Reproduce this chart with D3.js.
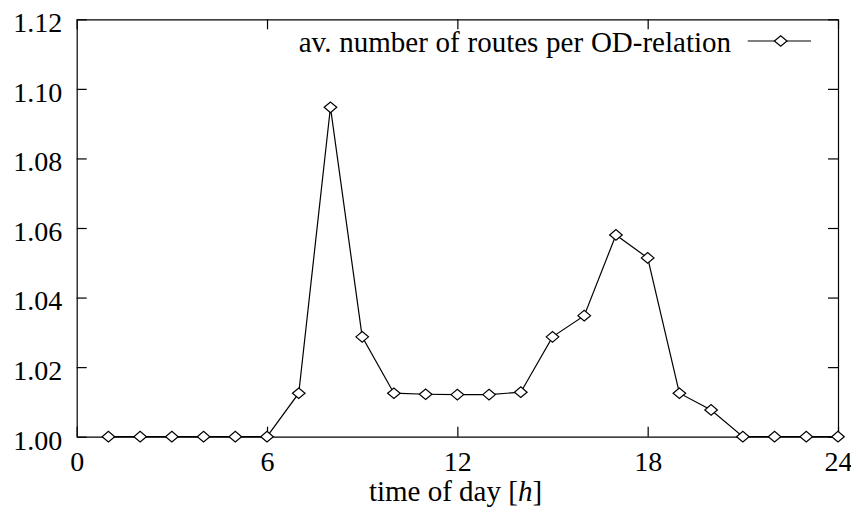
<!DOCTYPE html>
<html>
<head>
<meta charset="utf-8">
<script src="https://cdn.jsdelivr.net/npm/d3@7"></script>
<style>
  body { margin: 0; background: #fff; }
</style>
</head>
<body>
<div id="chart-Div"></div>
<script>

let width = 851, height = 510;
let margin = {left: 76.7, right: 13, top: 19.3, bottom: 73.3};

// hours of the day and the measured averages
let hours = [1, 2, 3, 4, 5, 6, 7, 8, 9, 10, 11, 12, 13, 14, 15, 16, 17, 18, 19, 20, 21, 22, 23, 24];
let avRoutes = [1.000, 1.000, 1.000, 1.000, 1.000, 1.000, 1.0125, 1.0947, 1.0287, 1.0125, 1.0122, 1.0121,
    1.0121, 1.0128, 1.0287, 1.0348, 1.058, 1.0514, 1.0125, 1.0077, 1.000, 1.000, 1.000, 1.000];
let xTicks = [0, 6, 12, 18, 24];
let yTicks = [1.00, 1.02, 1.04, 1.06, 1.08, 1.10, 1.12];
let seriesName = 'av. number of routes per OD-relation';

let fontFamily = "'Liberation Serif', 'Times New Roman', Times, serif";
let tickFont = 28, labelFont = 29;

let svg = d3.select('#chart-Div')
    .append('svg')
    .attr('width', width)
    .attr('height', height)
    .attr('font-family', fontFamily);

let xScale = d3.scaleLinear()
    .domain([0, 24])
    .range([margin.left, width - margin.right]);
let yScale = d3.scaleLinear()
    .domain([1.00, 1.12])
    .range([height - margin.bottom, margin.top]);

// axes, gnuplot style: inward ticks, mirrored on top and right
let bottomAxis = d3.axisBottom(xScale).tickValues(xTicks).tickSizeInner(-10).tickSizeOuter(0);
let topAxis = d3.axisTop(xScale).tickValues(xTicks).tickSizeInner(-10).tickSizeOuter(0).tickFormat('');
let leftAxis = d3.axisLeft(yScale).tickValues(yTicks).tickSizeInner(-10).tickSizeOuter(0)
    .tickFormat(d3.format('.2f'));
let rightAxis = d3.axisRight(yScale).tickValues(yTicks).tickSizeInner(-10).tickSizeOuter(0).tickFormat('');

function styleAxis(g) {
    g.attr('font-family', fontFamily).attr('font-size', tickFont);
    g.selectAll('path.domain').attr('stroke', '#000').attr('stroke-width', 1.2);
    g.selectAll('.tick line').attr('stroke', '#000').attr('stroke-width', 1.2);
    g.selectAll('text').attr('fill', '#000');
}

let gx = svg.append('g')
    .attr('transform', `translate(0,${yScale(1.00)})`)
    .call(bottomAxis)
    .call(styleAxis);
gx.selectAll('text').attr('y', 34.3).attr('dy', 0);

svg.append('g')
    .attr('transform', `translate(0,${yScale(1.12)})`)
    .call(topAxis)
    .call(styleAxis);

let gy = svg.append('g')
    .attr('transform', `translate(${xScale(0)},0)`)
    .call(leftAxis)
    .call(styleAxis);
gy.selectAll('text').attr('x', -14.5).attr('dy', 0).attr('y', 12.4);

svg.append('g')
    .attr('transform', `translate(${xScale(24)},0)`)
    .call(rightAxis)
    .call(styleAxis);

// x axis title
let xTitle = svg.append('text')
    .attr('x', 455.5)
    .attr('y', 501)
    .attr('text-anchor', 'middle')
    .attr('font-size', labelFont);
xTitle.append('tspan').text('time of day [');
xTitle.append('tspan').attr('font-style', 'italic').text('h');
xTitle.append('tspan').text(']');

// data line
let lineGen = d3.line()
    .x((d, i) => xScale(hours[i]))
    .y((d) => yScale(d));

svg.append('path')
    .attr('d', lineGen(avRoutes))
    .attr('fill', 'none')
    .attr('stroke', '#000')
    .attr('stroke-width', 1.2);

function diamond(cx, cy) {
    let hw = 6.3, hh = 5.3;
    return `M${cx - hw},${cy}L${cx},${cy - hh}L${cx + hw},${cy}L${cx},${cy + hh}Z`;
}

svg.selectAll('path.pt')
    .data(avRoutes)
    .enter()
    .append('path')
    .attr('class', 'pt')
    .attr('d', (d, i) => diamond(xScale(hours[i]), yScale(d)))
    .attr('fill', '#fff')
    .attr('stroke', '#000')
    .attr('stroke-width', 1.2);

// key
let keyY = 41;
svg.append('text')
    .attr('x', 731)
    .attr('y', 52)
    .attr('text-anchor', 'end')
    .attr('font-size', labelFont)
    .attr('word-spacing', 0.5)
    .text(seriesName);
svg.append('line')
    .attr('x1', 747.7).attr('x2', 811)
    .attr('y1', keyY).attr('y2', keyY)
    .attr('stroke', '#000')
    .attr('stroke-width', 1.2);
svg.append('path')
    .attr('d', diamond(780.7, keyY))
    .attr('fill', '#fff')
    .attr('stroke', '#000')
    .attr('stroke-width', 1.2);

</script>
</body>
</html>
